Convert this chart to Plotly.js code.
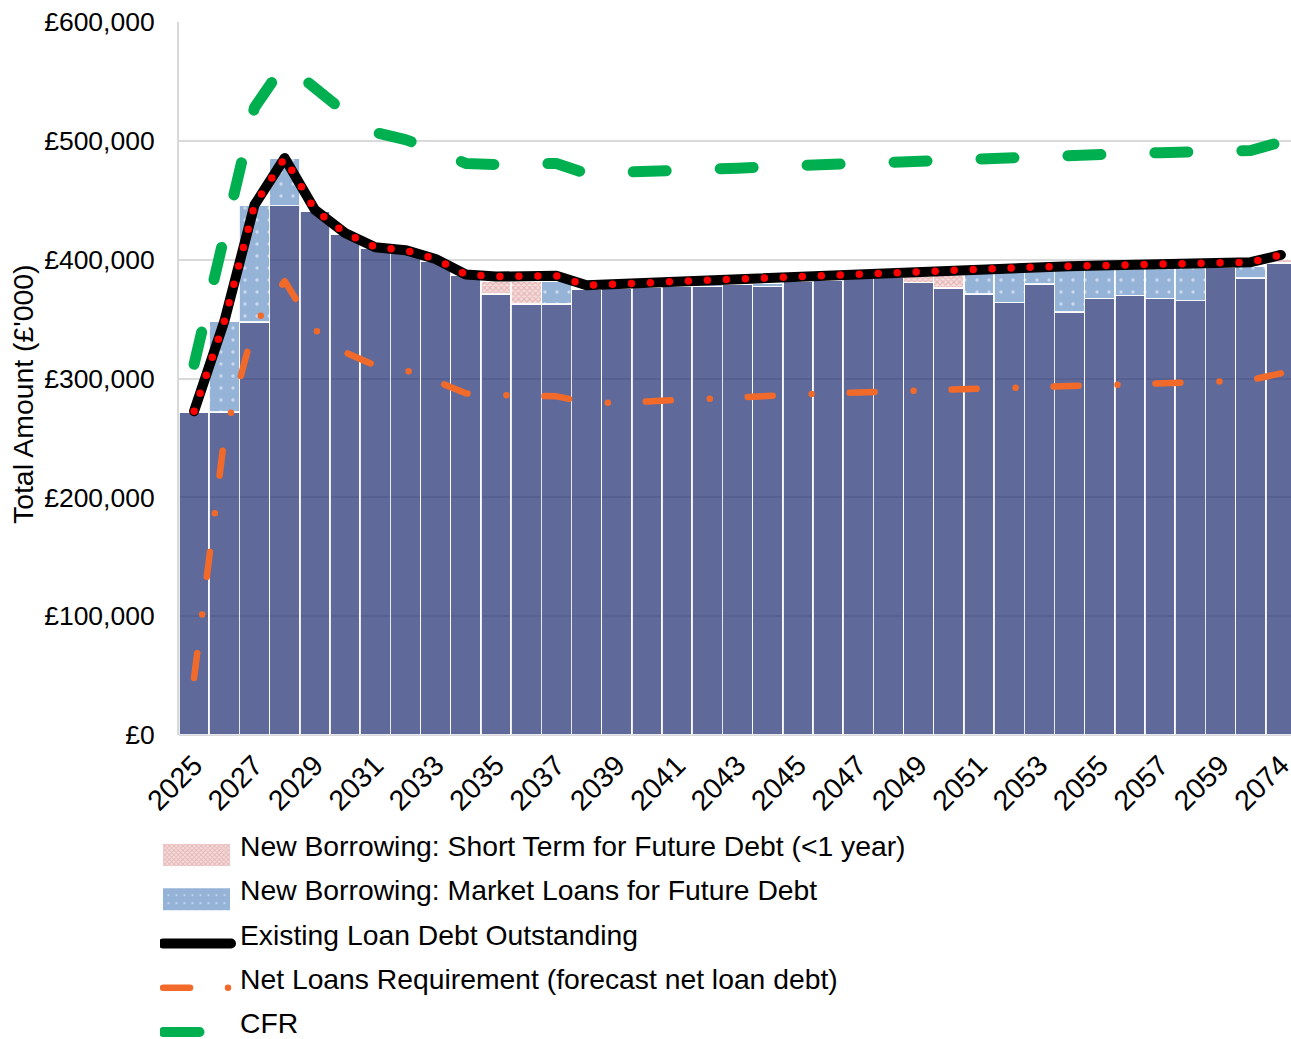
<!DOCTYPE html>
<html>
<head>
<meta charset="utf-8">
<script src="https://cdn.plot.ly/plotly-3.0.1.min.js"></script>
<style>
  html, body { margin: 0; padding: 0; overflow: hidden; background: #ffffff; }
  #chart { width: 1297px; height: 1039px; }
</style>
</head>
<body>
<div id="chart"></div>
<script>
// Financial years shown on the category axis (the final column is the long-range year)
const years = ['2025','2026','2027','2028','2029','2030','2031','2032','2033','2034',
               '2035','2036','2037','2038','2039','2040','2041','2042','2043','2044',
               '2045','2046','2047','2048','2049','2050','2051','2052','2053','2054',
               '2055','2056','2057','2058','2059','2060','2074'];

// Existing loan debt, shown as the base columns (£'000)
const existingBars = [272000, 272000, 347500, 445500, 440500, 421000, 409500, 405500, 398500, 386500,
                      371000, 362500, 362500, 375000, 376000, 377000, 378000, 377500, 379500, 377500,
                      381500, 382500, 384500, 385000, 381000, 376000, 371000, 364000, 379500, 356000,
                      367500, 370000, 367500, 365500, 394000, 384500, 397000];

// New borrowing: market loans for future debt (£'000)
const marketLoans = [0, 76000, 98500, 39500, 0, 0, 0, 0, 0, 0,
                     0, 0, 19000, 0, 0, 0, 0, 3000, 0, 2500,
                     0, 0, 0, 0, 0, 0, 18000, 26500, 11500, 35500,
                     25000, 23000, 26000, 28500, 0, 10000, 0];

// New borrowing: short term (<1 year) for future debt (£'000)
const shortTerm = [0, 0, 0, 0, 0, 0, 0, 0, 0, 0,
                   10500, 19000, 0, 0, 0, 0, 0, 0, 0, 0,
                   0, 0, 0, 0, 5000, 11000, 0, 0, 0, 0,
                   0, 0, 0, 0, 0, 0, 3000];

// Existing loan debt outstanding (£'000)
const existingDebt = [272500, 348000, 446000, 485500, 442000, 422500, 410500, 408000, 400500, 387500,
                      385800, 385800, 386400, 378500, 379600, 380700, 381900, 382700, 383600, 384400,
                      385500, 386400, 387500, 389500, 390300, 391100, 392000, 393100, 393900, 394500,
                      395000, 395900, 396500, 397000, 397600, 397900, 404000];

// Net loans requirement, forecast net loan debt (£'000)
const netLoans = [48000, 250000, 345000, 382000, 341000, 322000, 311000, 307000, 298000, 287500,
                  286000, 285800, 285000, 280000, 279500, 280700, 282000, 283300, 284500, 285400,
                  286600, 287500, 288300, 289000, 290100, 291000, 291700, 292700, 293500, 294000,
                  295000, 295900, 296500, 296900, 297400, 298800, 304300];

// Capital financing requirement (£'000)
const cfr = [312000, 425000, 528000, 565000, 545000, 524000, 507000, 501000, 492000, 481000,
             480000, 480400, 481000, 472500, 473000, 473800, 474800, 475800, 477000, 478200,
             479300, 480400, 481400, 482400, 483400, 484300, 485200, 486100, 487000, 487800,
             488600, 489300, 490000, 490600, 491200, 491800, 499000];

const FONT = 'Arial, "Liberation Sans", sans-serif';
const barEdge = { color: 'rgba(255,255,255,0.85)', width: 1.5 };

const traces = [
  {
    type: 'bar', x: years, y: existingBars, name: 'Existing loans',
    showlegend: false, hoverinfo: 'skip',
    marker: { color: 'rgba(47,61,125,0.77)', line: barEdge }
  },
  {
    type: 'bar', x: years, y: marketLoans, name: 'New Borrowing: Market Loans for Future Debt',
    legendrank: 2, legendgroup: 'g2',
    marker: {
      color: '#95b3d7', line: barEdge,
      pattern: { shape: '.', fgcolor: '#ffffff', bgcolor: '#95b3d7', size: 12, solidity: 0.06, fillmode: 'overlay' }
    }
  },
  {
    type: 'bar', x: years, y: shortTerm, name: 'New Borrowing: Short Term for Future Debt (<1 year)',
    legendrank: 1, legendgroup: 'g1',
    marker: {
      color: '#f2dcdb', line: barEdge,
      pattern: { shape: 'x', fgcolor: '#d98c8b', bgcolor: '#f4dede', size: 4, solidity: 0.5, fillmode: 'overlay' }
    }
  },
  {
    type: 'scatter', mode: 'lines', x: years, y: existingDebt, name: 'Existing Loan Debt Outstanding',
    legendrank: 3, legendgroup: 'g3',
    line: { color: '#000000', width: 10 }
  },
  {
    type: 'scatter', mode: 'lines', x: years, y: existingDebt, name: 'Existing Loan Debt Outstanding (dots)',
    showlegend: false, hoverinfo: 'skip', legendgroup: 'g3',
    line: { color: '#ff0000', width: 7.5, dash: '0px,19px' }
  },
  {
    type: 'scatter', mode: 'lines', x: years, y: netLoans, name: 'Net Loans Requirement (forecast net loan debt)',
    legendrank: 4, legendgroup: 'g4',
    line: { color: '#f26a2a', width: 6.5, dash: '25px,39px,0px,38px' }
  },
  {
    type: 'scatter', mode: 'lines', x: years, y: cfr, name: 'CFR',
    legendrank: 5, legendgroup: 'g5',
    line: { color: '#00b050', width: 11, dash: '33px,54px' }
  }
];

const plotLeft = 179, plotTop = 22, plotBottom = 735, plotW = 1117, plotH = plotBottom - plotTop;
const pxToPaperX = px => (px - plotLeft) / plotW;
const pxToPaperY = py => (plotBottom - py) / plotH;

const layout = {
  width: 1297, height: 1039,
  margin: { l: plotLeft, r: 1, t: plotTop, b: 1039 - plotBottom, pad: 0, autoexpand: false },
  paper_bgcolor: '#ffffff', plot_bgcolor: '#ffffff',
  font: { family: FONT, color: '#000000', size: 26.5 },
  barmode: 'stack', bargap: 0,
  showlegend: true,
  xaxis: {
    type: 'category', dtick: 2, tickangle: -45,
    showgrid: false, zeroline: false, showline: false, ticks: '',
    ticklabelstandoff: 7,
    tickfont: { family: FONT, size: 28.5, color: '#000000' },
    fixedrange: true
  },
  yaxis: {
    range: [0, 600000], dtick: 100000, tickprefix: '£', tickformat: ',d',
    showgrid: true, gridcolor: '#d9d9d9', gridwidth: 2,
    zeroline: true, zerolinecolor: '#d9d9d9', zerolinewidth: 2,
    showline: true, linecolor: '#d9d9d9', linewidth: 2,
    ticks: '', ticklabelstandoff: 17,
    tickfont: { family: FONT, size: 26.5, color: '#000000' },
    fixedrange: true
  },
  annotations: [{
    text: 'Total Amount (£\'000)', textangle: -90,
    xref: 'paper', yref: 'paper', x: 0, y: pxToPaperY(394),
    xanchor: 'center', yanchor: 'middle', xshift: 23 - plotLeft,
    showarrow: false, font: { family: FONT, size: 28.4, color: '#000000' }
  }],
  legend: {
    orientation: 'v', traceorder: 'grouped', tracegroupgap: 4.5,
    x: pxToPaperX(160), xanchor: 'left',
    y: pxToPaperY(820), yanchor: 'top',
    itemwidth: 70, maxheight: 600,
    font: { family: FONT, size: 28.3, color: '#000000' },
    bgcolor: 'rgba(0,0,0,0)', borderwidth: 0
  }
};

// Legend symbols: long swatches and lines, drawn a little below the label text
function styleLegend(gd) {
  gd.querySelectorAll('.scatterlayer .js-line').forEach(p => {
    p.style.strokeLinecap = 'round';
    p.style.strokeLinejoin = 'round';
  });
  gd.querySelectorAll('.legend .traces').forEach(tr => {
    const textEl = tr.querySelector('text.legendtext');
    const label = textEl ? textEl.textContent : '';
    const line = tr.querySelector('path.js-line');
    if (line) {
      line.style.strokeLinecap = 'round';
      line.setAttribute('transform', 'translate(0,10)');
      if (label.indexOf('Net Loans') === 0) {
        line.setAttribute('d', 'M3,0h66');
        line.style.strokeDasharray = '27px,38px,0px,100px';
      } else if (label === 'CFR') {
        line.setAttribute('d', 'M3.5,0h66');
        line.style.strokeDasharray = '36px,100px';
      } else {
        line.setAttribute('d', 'M3,0h68');
      }
    } else {
      tr.querySelectorAll('.legendpoints path').forEach(p => {
        p.setAttribute('d', 'M33.5,11H-33.5V-11H33.5Z');
        p.setAttribute('transform', 'translate(36.5,10)');
        p.style.strokeWidth = '0px';
      });
    }
  });
}

Plotly.newPlot('chart', traces, layout, { staticPlot: true }).then(gd => {
  styleLegend(gd);
  gd.on('plotly_afterplot', () => styleLegend(gd));
  setTimeout(() => styleLegend(gd), 50);
});
</script>
</body>
</html>
